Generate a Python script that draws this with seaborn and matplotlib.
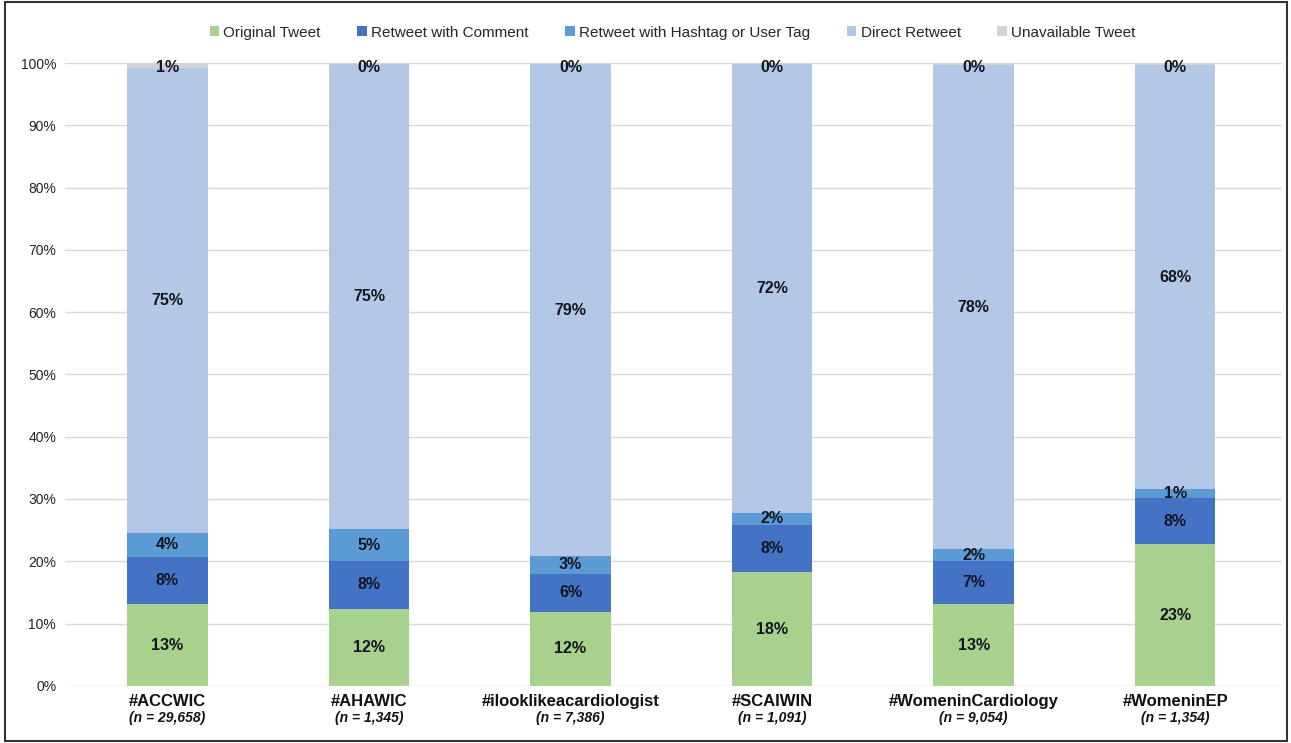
import matplotlib
matplotlib.use("Agg")
import matplotlib.pyplot as plt
import matplotlib.transforms as mtransforms
from matplotlib.patches import Rectangle, Patch
import numpy as np
import seaborn as sns

# Hashtags and sample sizes
hashtags = ["#ACCWIC", "#AHAWIC", "#ilooklikeacardiologist", "#SCAIWIN",
            "#WomeninCardiology", "#WomeninEP"]
sample_sizes = ["(n = 29,658)", "(n = 1,345)", "(n = 7,386)", "(n = 1,091)",
                "(n = 9,054)", "(n = 1,354)"]

# Share of tweets by type (%)
original_tweet = [13.1, 12.4, 11.9, 18.2, 13.1, 22.7]
retweet_comment = [7.6, 7.6, 6.1, 7.7, 6.9, 7.5]
retweet_hashtag = [3.9, 5.2, 2.8, 1.9, 1.9, 1.4]
direct_retweet = [74.7, 74.6, 79.1, 72.1, 77.8, 68.1]
unavailable_tweet = [0.7, 0.2, 0.1, 0.1, 0.3, 0.3]

series_names = ["Original Tweet", "Retweet with Comment",
                "Retweet with Hashtag or User Tag", "Direct Retweet",
                "Unavailable Tweet"]
series_values = [original_tweet, retweet_comment, retweet_hashtag,
                 direct_retweet, unavailable_tweet]
series_colors = ["#A9D18E", "#4472C4", "#5B9BD5", "#B4C7E7", "#D3D3D3"]

sns.set_theme(style="white")
plt.rcParams["font.family"] = ["Liberation Sans", "DejaVu Sans"]

fig = plt.figure(figsize=(12.91, 7.43), dpi=100)
ax = fig.add_axes([0.050, 0.077, 0.943, 0.838])

vals = np.array(series_values)
cum = np.cumsum(vals, axis=0)

# Stacked bars: draw cumulative totals from the top layer downwards
for i in range(len(series_names) - 1, -1, -1):
    sns.barplot(x=hashtags, y=cum[i], color=series_colors[i], width=0.4,
                saturation=1, ax=ax, zorder=3, edgecolor="none", linewidth=0)

# Segment labels
for i in range(len(series_names)):
    for j in range(len(hashtags)):
        lo = cum[i][j] - vals[i][j]
        y = (lo + cum[i][j]) / 2
        if i == len(series_names) - 1:
            y = 99.3
        ax.text(j, y, f"{vals[i][j]:.0f}%", ha="center", va="center",
                fontsize=11.5, fontweight="bold", color="#151520", zorder=5)

ax.set_ylim(0, 100)
ax.set_xlim(-0.51, 5.53)
ax.set_yticks(np.arange(0, 101, 10))
ax.set_yticklabels([f"{t}%" for t in range(0, 101, 10)], fontsize=10,
                   color="#222222")
ax.yaxis.grid(True, color="#D9D9D9", linewidth=1.0, zorder=0)
ax.set_axisbelow(True)
for s in ax.spines.values():
    s.set_visible(False)
ax.tick_params(axis="y", length=0, pad=6)
ax.tick_params(axis="x", length=0)
ax.set_xticks(range(len(hashtags)))
ax.set_xticklabels([])
ax.set_xlabel("")
ax.set_ylabel("")

# Category labels with sample size beneath
trans = mtransforms.blended_transform_factory(ax.transData, ax.transAxes)
for j, (h, n) in enumerate(zip(hashtags, sample_sizes)):
    ax.text(j, -0.026, h, transform=trans, ha="center", va="center",
            fontsize=12, fontweight="bold", color="#111111")
    ax.text(j, -0.052, n, transform=trans, ha="center", va="center",
            fontsize=10, fontweight="bold", style="italic", color="#111111")

# Legend across the top
handles = [Patch(facecolor=c, edgecolor="none") for c in series_colors]
fig.legend(handles, series_names, loc="center",
           bbox_to_anchor=(0.521, 0.956), ncol=5, frameon=False,
           fontsize=11, handlelength=0.6, handleheight=0.6,
           handletextpad=0.3, columnspacing=2.4)

# Outer frame
fig.patches.append(Rectangle((0.004, 0.003), 0.993, 0.994,
                             transform=fig.transFigure, fill=False,
                             edgecolor="#333333", linewidth=1.5))

fig.savefig("out.png", dpi=100)
